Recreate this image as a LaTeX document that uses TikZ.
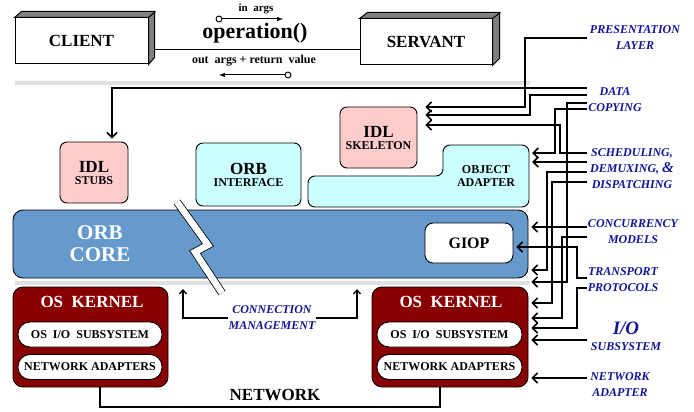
\documentclass[tikz,border=0pt]{standalone}
\usepackage{fontspec}
\setmainfont{Liberation Serif}
\usepackage{xcolor}
\usepackage{tikz}
\usetikzlibrary{arrows.meta}
\definecolor{pinkbox}{RGB}{255,204,204}
\definecolor{cyanbox}{RGB}{204,255,255}
\definecolor{corebox}{RGB}{102,153,204}
\definecolor{kernred}{RGB}{136,0,0}
\definecolor{lblblue}{RGB}{20,20,150}
\definecolor{sepgray}{RGB}{224,224,224}
\newcommand{\bigtxt}{\fontsize{17}{19}\selectfont}
\newcommand{\smtxt}{\fontsize{12}{13}\selectfont}

\begin{document}
\begin{tikzpicture}[x=1pt,y=-1pt,
	box/.style={draw,line width=0.9pt,rounded corners=7pt,align=center,inner sep=0pt,font=\bfseries},
	box3d/.style={draw,line width=1pt,fill=white,minimum width=133pt,minimum height=46pt,font=\bigtxt\bfseries},
	face/.style={draw,line width=1pt,fill=black!50},
	subbox/.style={draw,line width=0.9pt,fill=white,rounded corners=12pt,minimum width=144pt,minimum height=25pt,inner sep=0pt,font=\fontsize{12}{14}\selectfont\bfseries},
	lbl/.style={font=\fontsize{12}{16}\selectfont\bfseries\itshape,text=lblblue,align=center,inner sep=0pt},
	link/.style={line width=1.6pt,-{Straight Barb[length=5pt,width=10pt]},shorten >=3pt},
	uplink/.style={line width=1.3pt,-{Straight Barb[length=4pt,width=7pt]}},
	arg/.style={line width=1pt,-latex},
	dot/.style={circle,draw,line width=0.9pt,fill=white,inner sep=0pt,minimum size=6pt},
	sep/.style={line width=4pt,sepgray}]
	\useasboundingbox (0,0) rectangle (694,412);
	% client / servant
	\node[box3d] (client) at (81.5,41) {CLIENT};
	\node[box3d,minimum width=132pt] (servant) at (426,42) {SERVANT};
	\draw[line width=1pt] (client.east |- 0,50) -- (servant.west |- 0,50);
	\filldraw[face] (client.north west) -- ++(7,-6) -- ++(133,0) -- ++(0,46) -- (client.south east) -- (client.north east) -- cycle;
	\draw[line width=1pt] (client.north east) -- ++(7,-6);
	\filldraw[face] (servant.north west) -- ++(8,-6) -- ++(132,0) -- ++(0,46) -- (servant.south east) -- (servant.north east) -- cycle;
	\draw[line width=1pt] (servant.north east) -- ++(8,-6);
	\node[font=\fontsize{11}{12}\selectfont\bfseries] (inargs) at (256,9) {in~ args};
	\node[font=\fontsize{22}{24}\selectfont\bfseries] (oper) at (255,33) {operation()};
	\node[font=\fontsize{12}{14}\selectfont\bfseries] (outargs) at (254,61) {out~ args + return~ value};
	\node[dot] (inA) at (219,19) {};
	\coordinate (inB) at (283,19);
	\draw[arg] (inA) -- (inB);
	\node[dot] (outA) at (288,75) {};
	\coordinate (outB) at (219,75);
	\draw[arg] (outA) -- (outB);
	% separators
	\draw[sep] (15,83) -- (530,83);
	\draw[sep] (15,283) -- (530,283);
	% orb core
	\node[box,fill=corebox,rounded corners=10pt,minimum width=515pt,minimum height=68pt] (core) at (270.5,244) {};
	\node[white,font=\fontsize{21}{22}\selectfont\bfseries,align=center] (coret) at (100,244) {ORB\\CORE};
	\draw[line width=0.8pt,double=white,double distance=6.5pt,line join=miter] (177,202) -- (208,245) -- (195,252) -- (222,293);
	\node[box,fill=white,rounded corners=8pt,minimum width=88pt,minimum height=40pt,font=\fontsize{16}{18}\selectfont\bfseries] (giop) at (469,243) {GIOP};
	% upper components
	\node[box,fill=pinkbox,minimum width=68pt,minimum height=61pt] (stubs) at (94,172.5) {\bigtxt IDL\\\smtxt STUBS};
	\node[box,fill=cyanbox,minimum width=105pt,minimum height=63pt] (orbif) at (248.5,174.5) {\bigtxt ORB\\\smtxt INTERFACE};
	\node[box,fill=pinkbox,minimum width=77pt,minimum height=61pt] (skel) at (378.5,137.5) {\bigtxt IDL\\\smtxt SKELETON};
	\filldraw[fill=cyanbox,line width=0.9pt,rounded corners=7pt] (308,207) -- (308,176) -- (443,176) -- (443,145) -- (529,145) -- (529,207) -- cycle;
	\node[align=center,inner sep=0pt,minimum width=86pt,minimum height=62pt,font=\smtxt\bfseries] (oa) at (486,176) {OBJECT\\ADAPTER};
	% os kernels
	\node[box,fill=kernred,rounded corners=10pt,minimum width=155pt,minimum height=100pt] (kernL) at (90.5,337) {};
	\node[white,font=\bigtxt\bfseries] (kernLt) at (92,302) {OS~ KERNEL};
	\node[subbox] (ioL) at (90,334.5) {OS~ I/O~ SUBSYSTEM};
	\node[subbox] (nadL) at (90,367) {NETWORK ADAPTERS};
	\node[box,fill=kernred,rounded corners=10pt,minimum width=156pt,minimum height=100pt] (kernR) at (450,337) {};
	\node[white,font=\bigtxt\bfseries] (kernRt) at (451,302) {OS~ KERNEL};
	\node[subbox,minimum width=145pt] (ioR) at (449.5,334.5) {OS~ I/O~ SUBSYSTEM};
	\node[subbox,minimum width=145pt] (nadR) at (449.5,367) {NETWORK ADAPTERS};
	% network
	\node[font=\bigtxt\bfseries] (net) at (275,395) {NETWORK};
	\draw[line width=1.6pt] (kernL.south -| 100,0) -- (100,407) -| (kernR.south -| 440,0);
	% connection management
	\node[lbl] (conn) at (272,318) {CONNECTION\\MANAGEMENT};
	\coordinate (cmL) at (183,289);
	\coordinate (cmR) at (357,289);
	\draw[uplink] (conn.west) -| (cmL);
	\draw[uplink] (conn.east) -| (cmR);
	% right hand labels
	\node[lbl] (pres) at (635,38) {PRESENTATION\\LAYER};
	\node[lbl] (data) at (615,100) {DATA\\COPYING};
	\node[lbl] (sched) at (632,169) {SCHEDULING,\\DEMUXING, {\fontsize{15}{16}\selectfont\&}\\DISPATCHING};
	\node[lbl] (conc) at (633,232) {CONCURRENCY\\MODELS};
	\node[lbl] (trans) at (623,280) {TRANSPORT\\PROTOCOLS};
	\node[lbl] (io) at (626,336) {{\fontsize{19}{16}\selectfont I/O}\\SUBSYSTEM};
	\node[lbl] (nadp) at (620,385) {NETWORK\\ADAPTER};
	\foreach \n/\y in {tPres/38,tDat1/88,tDat2/95,tCop1/103,tCop2/109,tSch1/153,tSch2/162,tDmx/172,tDsp/182,tCon/227,tMod/237,tTra/278,tPro/288,tIO/340,tNet/378}
		\coordinate (\n) at (587,\y);
	% connectors
	\draw[link,shorten >=8pt] (tPres) -| (525,107) -- (skel.east |- 0,107);
	\draw[link] (tDat1) -| (stubs.north -| 112,0);
	\draw[link,shorten >=8pt] (tDat2) -| (530,115) -- (skel.east |- 0,115);
	\draw[link,shorten >=8pt] (tSch1) -| (560,125) -- (skel.east |- 0,125);
	\draw[link] (tCop2) -| (555,153) -- (oa.east |- 0,153);
	\draw[link] (tSch2) -- (oa.east |- 0,162);
	\draw[link] (tCop1) -| (567,282) -- (core.east |- 0,282);
	\draw[link] (tDmx) -| (547,270) -- (core.east |- 0,270);
	\draw[link] (tDsp) -| (552,303) -- (kernR.east |- 0,303);
	\draw[link] (tCon) -- (core.east |- 0,227);
	\draw[link] (tMod) -| (562,318) -- (kernR.east |- 0,318);
	\draw[link] (tTra) -| (577,247) -- (giop.east |- 0,247);
	\draw[link] (tPro) -| (577,328) -- (kernR.east |- 0,328);
	\draw[link] (tIO) -- (kernR.east |- 0,340);
	\draw[link] (tNet) -- (kernR.east |- 0,378);
\end{tikzpicture}
\end{document}
